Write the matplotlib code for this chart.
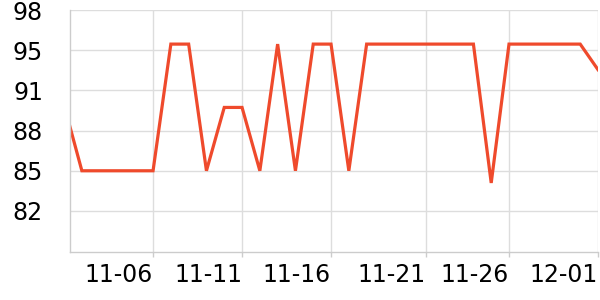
import numpy as np
import pandas as pd
import matplotlib
matplotlib.use("Agg")
import matplotlib.pyplot as plt

# daily values, 11-01 .. 12-01
dates = pd.date_range("2023-11-01", "2023-12-01", freq="D")
values = [90.2,
          84.8, 84.8, 84.8, 84.8, 84.8, 95.2, 95.2, 84.8, 90.0, 90.0,
          84.8, 95.2, 84.8, 95.2, 95.2, 84.8, 95.2, 95.2, 95.2, 95.2,
          95.2, 95.2, 95.2, 83.8, 95.2, 95.2, 95.2, 95.2, 95.2, 93.1]

ytick_vals = [98.0, 94.7, 91.4, 88.1, 84.8, 81.5]
ytick_labels = ["98", "95", "91", "88", "85", "82"]
xtick_dates = pd.to_datetime(["2023-11-06 00:00", "2023-11-11 00:00", "2023-11-16 00:00",
                              "2023-11-21 08:00", "2023-11-26 00:00", "2023-12-01 00:00"])
xtick_labels = ["11-06", "11-11", "11-16", "11-21", "11-26", "12-01"]

fig = plt.figure(figsize=(6, 3), dpi=100)
ax = fig.add_axes([70 / 600, 1 - 252 / 300, 528 / 600, 242 / 300])

ax.plot(dates, values, color="#ef4a2c", lw=2.3, solid_joinstyle="miter", clip_on=True)

ax.set_xlim(pd.Timestamp("2023-11-01 08:00"), pd.Timestamp("2023-12-01"))
ax.set_ylim(78.13, 98.0)

ax.set_yticks(ytick_vals)
ax.set_yticklabels(ytick_labels)
ax.set_xticks(xtick_dates)
ax.set_xticklabels(xtick_labels, ha="right")

ax.grid(True, color="#dddddd", lw=1)
ax.set_axisbelow(True)
for s in ["top", "right"]:
    ax.spines[s].set_visible(False)
for s in ["left", "bottom"]:
    ax.spines[s].set_color("#cccccc")
    ax.spines[s].set_linewidth(1)

ax.tick_params(axis="y", length=0, pad=19.5, labelsize=17, colors="black")
ax.tick_params(axis="x", length=3.5, width=1, color="#cccccc", pad=4.5, labelsize=17)

fig.savefig("out.png", dpi=100)
